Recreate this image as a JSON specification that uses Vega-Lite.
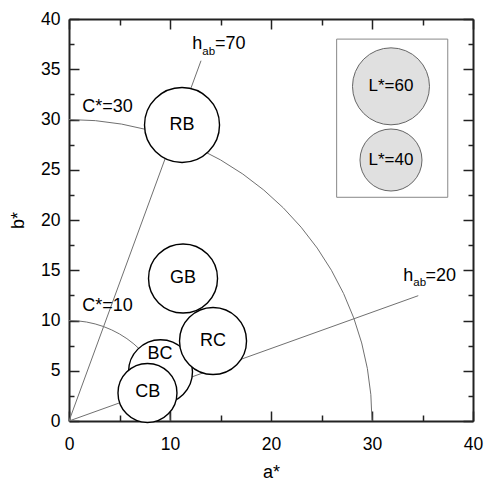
{
  "$schema": "https://vega.github.io/schema/vega-lite/v6.json",
  "width": 404,
  "height": 402,
  "autosize": "none",
  "padding": {"left": 69, "top": 19, "right": 12, "bottom": 64},
  "config": {
    "font": "Liberation Sans",
    "view": {"stroke": null},
    "axis": {
      "grid": false,
      "domainColor": "#222",
      "domainWidth": 2,
      "tickColor": "#222",
      "tickWidth": 1.5,
      "labelFont": "Liberation Sans",
      "labelFontSize": 17.5,
      "labelColor": "#000",
      "titleFont": "Liberation Sans",
      "titleFontSize": 18,
      "titleFontWeight": "normal",
      "titleColor": "#000",
      "labelOverlap": false,
      "labelFlush": false,
      "zindex": 1
    }
  },
  "datasets": {
    "lines": [
      {"g": "h70", "i": 0, "a": 0, "b": 0},
      {"g": "h70", "i": 1, "a": 13.07, "b": 35.85},
      {"g": "h20", "i": 0, "a": 0, "b": 0},
      {"g": "h20", "i": 1, "a": 34.58, "b": 12.47},
      {"g": "c30", "i": 0, "a": 30, "b": 0},
      {"g": "c30", "i": 1, "a": 29.886, "b": 2.615},
      {"g": "c30", "i": 2, "a": 29.544, "b": 5.209},
      {"g": "c30", "i": 3, "a": 28.978, "b": 7.765},
      {"g": "c30", "i": 4, "a": 28.191, "b": 10.261},
      {"g": "c30", "i": 5, "a": 27.189, "b": 12.679},
      {"g": "c30", "i": 6, "a": 25.981, "b": 15},
      {"g": "c30", "i": 7, "a": 24.575, "b": 17.207},
      {"g": "c30", "i": 8, "a": 22.981, "b": 19.284},
      {"g": "c30", "i": 9, "a": 21.213, "b": 21.213},
      {"g": "c30", "i": 10, "a": 19.284, "b": 22.981},
      {"g": "c30", "i": 11, "a": 17.207, "b": 24.575},
      {"g": "c30", "i": 12, "a": 15, "b": 25.981},
      {"g": "c30", "i": 13, "a": 12.679, "b": 27.189},
      {"g": "c30", "i": 14, "a": 10.261, "b": 28.191},
      {"g": "c30", "i": 15, "a": 7.765, "b": 28.978},
      {"g": "c30", "i": 16, "a": 5.209, "b": 29.544},
      {"g": "c30", "i": 17, "a": 2.615, "b": 29.886},
      {"g": "c30", "i": 18, "a": 0, "b": 30},
      {"g": "c10", "i": 0, "a": 10, "b": 0},
      {"g": "c10", "i": 1, "a": 9.962, "b": 0.872},
      {"g": "c10", "i": 2, "a": 9.848, "b": 1.736},
      {"g": "c10", "i": 3, "a": 9.659, "b": 2.588},
      {"g": "c10", "i": 4, "a": 9.397, "b": 3.42},
      {"g": "c10", "i": 5, "a": 9.063, "b": 4.226},
      {"g": "c10", "i": 6, "a": 8.66, "b": 5},
      {"g": "c10", "i": 7, "a": 8.192, "b": 5.736},
      {"g": "c10", "i": 8, "a": 7.66, "b": 6.428},
      {"g": "c10", "i": 9, "a": 7.071, "b": 7.071},
      {"g": "c10", "i": 10, "a": 6.428, "b": 7.66},
      {"g": "c10", "i": 11, "a": 5.736, "b": 8.192},
      {"g": "c10", "i": 12, "a": 5, "b": 8.66},
      {"g": "c10", "i": 13, "a": 4.226, "b": 9.063},
      {"g": "c10", "i": 14, "a": 3.42, "b": 9.397},
      {"g": "c10", "i": 15, "a": 2.588, "b": 9.659},
      {"g": "c10", "i": 16, "a": 1.736, "b": 9.848},
      {"g": "c10", "i": 17, "a": 0.872, "b": 9.962},
      {"g": "c10", "i": 18, "a": 0, "b": 10}
    ],
    "samples": [
      {"name": "GB", "a": 11.29, "b": 14.18, "L": 48.8, "ta": 11.29, "tb": 14.18},
      {"name": "BC", "a": 9.06, "b": 4.9, "L": 42.4, "ta": 9.01, "tb": 6.67},
      {"name": "RC", "a": 14.26, "b": 7.96, "L": 46.2, "ta": 14.26, "tb": 7.96},
      {"name": "CB", "a": 7.77, "b": 2.79, "L": 36.5, "ta": 7.79, "tb": 2.92},
      {"name": "RB", "a": 11.19, "b": 29.45, "L": 57.1, "ta": 11.19, "tb": 29.45}
    ],
    "legendBox": [{"a1": 26.5, "a2": 37.5, "b1": 22.26, "b2": 38.0}],
    "legendCircles": [
      {"label": "L*=60", "a": 31.88, "b": 33.3, "L": 60},
      {"label": "L*=40", "a": 31.88, "b": 25.97, "L": 40}
    ],
    "mainLabels": [
      {"t": "C*=30", "a": 1.32, "b": 30.78},
      {"t": "C*=10", "a": 1.32, "b": 10.95},
      {"t": "h", "a": 12.21, "b": 36.99},
      {"t": "=70", "a": 14.46, "b": 36.99},
      {"t": "h", "a": 33.1, "b": 13.96},
      {"t": "=20", "a": 35.3, "b": 13.96}
    ],
    "subLabels": [
      {"t": "ab", "a": 13.2, "b": 36.42},
      {"t": "ab", "a": 34.09, "b": 13.43}
    ]
  },
  "resolve": {"axis": {"x": "independent", "y": "independent"}},
  "layer": [
    {
      "data": {"name": "lines"},
      "mark": {"type": "line", "stroke": "#707070", "strokeWidth": 1},
      "encoding": {
        "x": {
          "field": "a", "type": "quantitative",
          "scale": {"domain": [0, 40], "nice": false},
          "axis": {
            "orient": "bottom",
            "title": "a*",
            "values": [0, 5, 10, 15, 20, 25, 30, 35, 40],
            "labelExpr": "datum.value % 10 === 0 ? datum.label : ''",
            "tickSize": {"condition": {"test": "datum.value % 10 === 0", "value": -10}, "value": -6},
            "labelPadding": 24,
            "titlePadding": 7
          }
        },
        "y": {
          "field": "b", "type": "quantitative",
          "scale": {"domain": [0, 40], "nice": false},
          "axis": {
            "orient": "left",
            "title": "b*",
            "values": [0, 2.5, 5, 7.5, 10, 12.5, 15, 17.5, 20, 22.5, 25, 27.5, 30, 32.5, 35, 37.5, 40],
            "labelExpr": "datum.value % 5 === 0 ? datum.label : ''",
            "tickSize": {"condition": {"test": "datum.value % 5 === 0", "value": -10}, "value": -5},
            "labelPadding": 19,
            "titlePadding": 13
          }
        },
        "detail": {"field": "g"},
        "order": {"field": "i", "type": "quantitative"}
      }
    },
    {
      "data": {"name": "samples"},
      "mark": {"type": "point", "shape": "circle", "filled": true, "fill": "#ffffff", "stroke": "#000000", "strokeWidth": 1.4, "opacity": 1},
      "encoding": {
        "x": {
          "field": "a", "type": "quantitative",
          "scale": {"domain": [0, 40], "nice": false},
          "axis": {
            "orient": "top",
            "title": null,
            "labels": false,
            "values": [0, 5, 10, 15, 20, 25, 30, 35, 40],
            "tickSize": {"condition": {"test": "datum.value % 10 === 0", "value": -10}, "value": -6}
          }
        },
        "y": {
          "field": "b", "type": "quantitative",
          "scale": {"domain": [0, 40], "nice": false},
          "axis": {
            "orient": "right",
            "title": null,
            "labels": false,
            "values": [0, 2.5, 5, 7.5, 10, 12.5, 15, 17.5, 20, 22.5, 25, 27.5, 30, 32.5, 35, 37.5, 40],
            "tickSize": {"condition": {"test": "datum.value % 5 === 0", "value": -10}, "value": -5}
          }
        },
        "size": {"field": "L", "type": "quantitative", "scale": {"domain": [40, 60], "range": [3844, 5929]}, "legend": null}
      }
    },
    {
      "data": {"name": "samples"},
      "mark": {"type": "text", "fontSize": 18, "color": "#000", "align": "center", "baseline": "middle"},
      "encoding": {
        "x": {"field": "ta", "type": "quantitative", "scale": {"domain": [0, 40], "nice": false}, "axis": null},
        "y": {"field": "tb", "type": "quantitative", "scale": {"domain": [0, 40], "nice": false}, "axis": null},
        "text": {"field": "name"}
      }
    },
    {
      "data": {"name": "legendBox"},
      "mark": {"type": "rect", "fill": null, "stroke": "#888888", "strokeWidth": 1},
      "encoding": {
        "x": {"field": "a1", "type": "quantitative", "scale": {"domain": [0, 40], "nice": false}, "axis": null},
        "x2": {"field": "a2"},
        "y": {"field": "b1", "type": "quantitative", "scale": {"domain": [0, 40], "nice": false}, "axis": null},
        "y2": {"field": "b2"}
      }
    },
    {
      "data": {"name": "legendCircles"},
      "mark": {"type": "point", "shape": "circle", "filled": true, "fill": "#e0e0e0", "stroke": "#666666", "strokeWidth": 1, "opacity": 1},
      "encoding": {
        "x": {"field": "a", "type": "quantitative", "scale": {"domain": [0, 40], "nice": false}, "axis": null},
        "y": {"field": "b", "type": "quantitative", "scale": {"domain": [0, 40], "nice": false}, "axis": null},
        "size": {"field": "L", "type": "quantitative", "legend": null}
      }
    },
    {
      "data": {"name": "legendCircles"},
      "mark": {"type": "text", "fontSize": 17, "color": "#000", "align": "center", "baseline": "middle"},
      "encoding": {
        "x": {"field": "a", "type": "quantitative", "scale": {"domain": [0, 40], "nice": false}, "axis": null},
        "y": {"field": "b", "type": "quantitative", "scale": {"domain": [0, 40], "nice": false}, "axis": null},
        "text": {"field": "label"}
      }
    },
    {
      "data": {"name": "mainLabels"},
      "mark": {"type": "text", "fontSize": 18, "color": "#000", "align": "left", "baseline": "alphabetic"},
      "encoding": {
        "x": {"field": "a", "type": "quantitative", "scale": {"domain": [0, 40], "nice": false}, "axis": null},
        "y": {"field": "b", "type": "quantitative", "scale": {"domain": [0, 40], "nice": false}, "axis": null},
        "text": {"field": "t"}
      }
    },
    {
      "data": {"name": "subLabels"},
      "mark": {"type": "text", "fontSize": 11.5, "color": "#000", "align": "left", "baseline": "alphabetic"},
      "encoding": {
        "x": {"field": "a", "type": "quantitative", "scale": {"domain": [0, 40], "nice": false}, "axis": null},
        "y": {"field": "b", "type": "quantitative", "scale": {"domain": [0, 40], "nice": false}, "axis": null},
        "text": {"field": "t"}
      }
    }
  ]
}
